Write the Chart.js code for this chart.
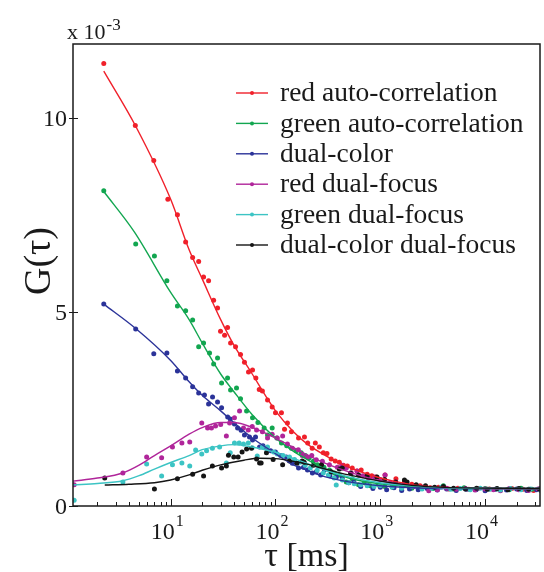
<!DOCTYPE html>
<html>
<head>
<meta charset="utf-8">
<script src="https://cdn.jsdelivr.net/npm/chart.js@4"></script>
<style>
  html, body { margin: 0; background: #fff; }
</style>
</head>
<body>
<canvas id="chart" width="544" height="572"></canvas>
<script>
// ---- data (tau in ms, G in units of 1e-3) ----
const seriesNames = [
  "red auto-correlation",
  "green auto-correlation",
  "dual-color",
  "red dual-focus",
  "green dual-focus",
  "dual-color dual-focus"
];
const seriesColors = ["#f0202a", "#12a650", "#2b3399", "#b0259a", "#3cc4c4", "#151515"];

const xTicks = [10, 100, 1000, 10000];
const xTickExp = ["1", "2", "3", "4"];
const yTicks = [0, 5, 10];

const redPts = [[2.3,11.4],[4.6,9.8],[6.9,8.9],[9.4,7.9],[11.6,7.5],[13.9,6.8],[16.2,6.4],[18.5,6.3],[20.6,5.9],[23,5.8],
  [25.7,5.3],[28,5.1],[29.9,4.5],[32.7,4.4],[34.9,4.6],[37.3,4.2],[41.6,4.1],[46.4,3.9],[50.6,3.7],[55.3,3.45],[60.4,3.5],
  [65,3.3],[70,3.0],[75,2.96],[84,2.73],[93,2.55],[100,2.4],[114,2.4],[122,1.98],[130,2.14],[142,1.91],[166,1.75],[189,1.78],
  [203,1.62],[224,1.49],[240,1.62],[262,1.52],[286,1.37],[310,1.35],[340,1.21],[372,1.16],[407,1.13],[445,1.05],[485,1.03],
  [540,0.98],[600,0.9],[657,0.93],[750,0.82],[830,0.78],[910,0.75],[1110,0.8],[1410,0.7],[1700,0.62],[2000,0.56],[2400,0.52],
  [3000,0.47],[3600,0.48],[4500,0.44],[5500,0.46],[7000,0.43],[8500,0.45],[11000,0.44],[14000,0.41],[18000,0.45],[23000,0.43],
  [29000,0.40],[34000,0.44]];
const greenPts = [[2.3,8.12],[4.64,6.75],[7,6.44],[9.2,5.8],[11.6,5.15],[13.9,5.03],[16.2,4.79],[18.5,4.1],[20.6,4.2],[23.5,3.94],
  [25.7,3.66],[28,3.81],[30.6,3.17],[34.9,3.3],[37.3,2.99],[42.5,3.04],[46.4,2.76],[53,2.45],[60.4,2.27],[68,2.15],[78,2.01],
  [84,1.83],[93,2.01],[103,1.75],[114,1.62],[128,1.55],[142,1.49],[158,1.42],[176,1.37],[193,1.3],[210,1.24],[230,1.15],
  [251,1.06],[290,1.0],[327,0.93],[365,0.85],[407,0.8],[474,0.62],[540,0.7],[620,0.55],[700,0.6],[800,0.52],[950,0.56],
  [1100,0.5],[1300,0.48],[1600,0.5],[2000,0.46],[2500,0.47],[3200,0.45],[4000,0.52],[5000,0.44],[6300,0.47],[8000,0.43],
  [10000,0.45],[13000,0.44],[17000,0.42],[22000,0.46],[28000,0.43],[34000,0.41]];
const bluePts = [[2.3,5.2],[4.64,4.56],[6.9,3.92],[9.2,3.94],[11.6,3.48],[13.9,3.3],[16.2,3.07],[18.5,2.91],[21,2.86],[23,2.63],
  [25.1,2.81],[28,2.68],[30.6,2.53],[35,2.29],[37,2.24],[40.6,2.11],[43.5,2.01],[47,1.95],[50.6,1.83],[56.5,1.78],[60.4,1.7],
  [64.5,1.78],[70.5,1.52],[76,1.55],[82,1.49],[90,1.42],[100,1.39],[112,1.3],[127,1.26],[145,1.1],[166,0.98],[185,1.0],
  [202,0.93],[225,0.85],[245,0.88],[270,0.8],[293,0.93],[330,0.78],[381,0.75],[434,0.72],[500,0.6],[560,0.62],[650,0.5],
  [750,0.55],[850,0.45],[1000,0.48],[1150,0.42],[1350,0.47],[1600,0.4],[1900,0.44],[2300,0.42],[2800,0.45],[3500,0.41],
  [4300,0.44],[5300,0.4],[6600,0.43],[8200,0.42],[10000,0.39],[12500,0.43],[16000,0.41],[20000,0.44],[25000,0.4],[31000,0.42]];
const magentaPts = [[1.2,0.55],[3.5,0.85],[5.9,1.26],[8.2,1.24],[10.4,1.52],[12.8,1.62],[15.2,1.65],[19.8,2.14],[22.5,2.01],
  [24.5,2.01],[26.8,2.06],[30,2.1],[34,1.8],[36.5,2.14],[40.6,2.27],[45.4,2.45],[49.5,2.01],[55,1.96],[60,2.05],[66,1.96],
  [75,1.91],[84,1.75],[93,1.85],[104,1.75],[117,1.8],[130,1.6],[145,1.49],[165,1.45],[180,1.3],[202,1.26],[222,1.3],
  [245,1.19],[280,1.15],[327,1.06],[389,1.0],[430,1.05],[474,0.98],[530,0.85],[600,0.9],[680,0.78],[770,0.72],[880,0.75],
  [1000,0.68],[1110,0.8],[1250,0.6],[1400,0.62],[1700,0.55],[2100,0.5],[2500,0.48],[2900,0.39],[3500,0.42],[4300,0.46],
  [5300,0.43],[6500,0.45],[8000,0.41],[10000,0.44],[12000,0.42],[14000,0.39],[17000,0.45],[21000,0.42],[26000,0.4],[32000,0.44]];
const cyanPts = [[1.2,0.15],[3.5,0.62],[5.9,1.08],[8.2,0.77],[10.4,1.06],[12.8,1.11],[15.2,1.03],[17.3,1.44],[19.8,1.34],
  [22,1.42],[25,1.49],[29.3,1.52],[34,1.11],[37,1.37],[40.6,1.62],[45,1.62],[49.5,1.6],[55,1.62],[60,1.5],[67,1.29],[75,1.52],
  [84,1.52],[96,1.39],[104,1.34],[118,1.3],[136,1.26],[152,1.2],[172,1.13],[192,1.05],[215,0.98],[250,0.92],[286,0.85],
  [320,0.8],[363,0.72],[380,0.54],[434,0.67],[500,0.6],[565,0.57],[650,0.55],[750,0.52],[870,0.5],[1000,0.53],[1300,0.49],
  [1600,0.46],[2000,0.5],[2500,0.44],[3100,0.46],[3800,0.48],[4700,0.43],[5800,0.45],[7200,0.42],[9000,0.46],[11000,0.43],
  [14000,0.41],[17500,0.45],[22000,0.42],[27000,0.44],[34000,0.4]];
const blackPts = [[2.35,0.72],[7,0.44],[11.6,0.7],[16.2,0.82],[20.6,0.77],[25,1.03],[30.6,0.98],[34,1.03],[35.6,1.31],[40,1.26],
  [44,1.26],[48,1.39],[53,1.47],[59,1.49],[66,1.21],[70.5,1.11],[73,1.11],[82,1.37],[95,1.2],[117,1.06],[136,1.16],[160,1.1],
  [180,1.16],[188,1.13],[230,1.05],[275,1.06],[340,0.88],[407,0.95],[434,0.98],[520,0.85],[620,0.8],[750,0.78],[930,0.75],
  [1100,0.68],[1400,0.62],[1700,0.67],[1800,0.62],[2200,0.55],[2700,0.52],[3300,0.48],[4000,0.5],[5000,0.46],[6500,0.44],
  [8300,0.46],[10500,0.43],[13000,0.45],[16500,0.42],[21000,0.45],[26000,0.43],[33000,0.44]];

// fitted curves
const redFit = [[2.3,11.2],[4.6,9.8],[10,7.9],[15,6.6],[20,5.85],[30,4.8],[40,4.15],[60,3.4],[80,2.85],[100,2.45],[150,1.9],
  [200,1.6],[300,1.3],[500,1.0],[1000,0.72],[2000,0.55],[4000,0.48],[10000,0.45],[35000,0.44]];
const greenFit = [[2.3,8.1],[4.5,7.06],[10,5.5],[15,4.8],[20,4.2],[30,3.4],[40,2.95],[60,2.35],[100,1.75],[150,1.4],[200,1.2],
  [300,0.95],[500,0.72],[1000,0.57],[2000,0.5],[4000,0.46],[35000,0.45]];
const blueFit = [[2.3,5.2],[4.7,4.56],[10,3.75],[15,3.2],[20,2.85],[30,2.45],[40,2.15],[60,1.75],[100,1.35],[150,1.05],
  [200,0.92],[300,0.75],[500,0.62],[1000,0.52],[2000,0.47],[4000,0.45],[35000,0.44]];
const magentaFit = [[1.17,0.64],[2,0.72],[3.5,0.85],[5,1.05],[7,1.3],[10,1.55],[15,1.85],[20,2.02],[30,2.15],[40,2.15],[50,2.1],
  [70,1.95],[100,1.75],[150,1.5],[200,1.32],[300,1.1],[500,0.88],[1000,0.65],[2000,0.53],[4000,0.47],[35000,0.45]];
const cyanFit = [[1.17,0.54],[2,0.58],[3.5,0.65],[5,0.78],[7,0.95],[10,1.12],[15,1.3],[20,1.45],[30,1.55],[40,1.58],[60,1.52],
  [100,1.38],[150,1.22],[200,1.1],[300,0.92],[500,0.75],[1000,0.6],[2000,0.52],[4000,0.47],[35000,0.45]];
const blackFit = [[2.35,0.54],[4,0.56],[7,0.6],[10,0.67],[15,0.8],[20,0.92],[30,1.06],[50,1.18],[70,1.23],[100,1.22],[150,1.15],
  [200,1.08],[300,0.95],[500,0.8],[1000,0.64],[2000,0.53],[4000,0.48],[35000,0.45]];

const allPts = [redPts, greenPts, bluePts, magentaPts, cyanPts, blackPts];
const allFits = [redFit, greenFit, blueFit, magentaFit, cyanFit, blackFit];

const serif = '"Liberation Serif", "Times New Roman", serif';
const toXY = arr => arr.map(p => ({ x: p[0], y: p[1] }));

const datasets = [];
allPts.forEach((pts, i) => {
  datasets.push({
    label: seriesNames[i],
    data: toXY(pts),
    showLine: false,
    pointRadius: 2.5,
    pointBorderWidth: 0,
    pointBackgroundColor: seriesColors[i],
    order: 20 - i
  });
});
allFits.forEach((fit, i) => {
  datasets.push({
    label: seriesNames[i] + " fit",
    data: toXY(fit),
    showLine: true,
    borderColor: seriesColors[i],
    borderWidth: 1.4,
    pointRadius: 0,
    cubicInterpolationMode: "monotone",
    order: 10 - i
  });
});

// axes box, ticks, labels, legend
const decor = {
  id: "decor",
  afterDraw(chart) {
    const { ctx, chartArea: a, scales: { x, y } } = chart;
    ctx.save();
    ctx.strokeStyle = "#1a1a1a";
    ctx.lineWidth = 1.5;
    ctx.strokeRect(a.left, a.top, a.right - a.left, a.bottom - a.top);

    // log minor / major ticks on bottom axis
    ctx.lineWidth = 1;
    for (let d = 0; d <= 4; d++) {
      for (let k = 1; k <= 9; k++) {
        const v = k * Math.pow(10, d);
        if (v < x.min || v > x.max) continue;
        const px = Math.round(x.getPixelForValue(v)) + 0.5;
        const len = k === 1 ? 7 : 4;
        ctx.beginPath();
        ctx.moveTo(px, a.bottom);
        ctx.lineTo(px, a.bottom - len);
        ctx.stroke();
      }
    }
    // y ticks
    yTicks.forEach(v => {
      const py = Math.round(y.getPixelForValue(v)) + 0.5;
      ctx.beginPath();
      ctx.moveTo(a.left - 4, py);
      ctx.lineTo(a.left + 5, py);
      ctx.stroke();
    });

    ctx.fillStyle = "#1a1a1a";
    // y tick labels
    ctx.font = "24px " + serif;
    ctx.textAlign = "right";
    ctx.textBaseline = "middle";
    yTicks.forEach(v => {
      ctx.fillText(String(v), a.left - 6, y.getPixelForValue(v) + 2);
    });

    // x tick labels 10^n
    ctx.textBaseline = "alphabetic";
    ctx.textAlign = "left";
    xTicks.forEach((v, i) => {
      const px = x.getPixelForValue(v);
      ctx.font = "24px " + serif;
      const w10 = ctx.measureText("10").width;
      ctx.font = "16px " + serif;
      const wExp = ctx.measureText(xTickExp[i]).width;
      const start = px - (w10 + wExp) / 2 - 4;
      ctx.font = "24px " + serif;
      ctx.fillText("10", start, 539);
      ctx.font = "16px " + serif;
      ctx.fillText(xTickExp[i], start + w10 + 1, 526);
    });

    // exponent marker
    ctx.font = "22px " + serif;
    ctx.fillText("x 10", 67, 39);
    const wx = ctx.measureText("x 10").width;
    ctx.font = "17px " + serif;
    ctx.fillText("-3", 67 + wx + 1, 30);

    // axis titles
    ctx.font = "34px " + serif;
    ctx.textAlign = "center";
    ctx.fillText("\u03c4 [ms]", (a.left + a.right) / 2, 566);
    ctx.save();
    ctx.font = "38px " + serif;
    ctx.translate(50, 261);
    ctx.rotate(-Math.PI / 2);
    ctx.fillText("G(\u03c4)", 0, 0);
    ctx.restore();

    // legend
    ctx.font = "27.5px " + serif;
    ctx.textAlign = "left";
    ctx.textBaseline = "middle";
    seriesNames.forEach((name, i) => {
      const ly = 93 + i * 30.4;
      ctx.strokeStyle = seriesColors[i];
      ctx.lineWidth = 1.4;
      ctx.beginPath();
      ctx.moveTo(236, ly);
      ctx.lineTo(268, ly);
      ctx.stroke();
      ctx.fillStyle = seriesColors[i];
      ctx.beginPath();
      ctx.arc(252, ly, 2, 0, Math.PI * 2);
      ctx.fill();
      ctx.fillStyle = "#1a1a1a";
      ctx.fillText(name, 280, ly + 1);
    });
    ctx.restore();
  }
};

new Chart(document.getElementById("chart"), {
  type: "scatter",
  data: { datasets },
  options: {
    responsive: false,
    animation: false,
    devicePixelRatio: 1,
    layout: { padding: { left: 0, right: 3, top: 44, bottom: 0 } },
    plugins: { legend: { display: false }, tooltip: { enabled: false } },
    scales: {
      x: {
        type: "logarithmic",
        min: 1.17,
        max: 33400,
        grid: { display: false },
        border: { display: false },
        ticks: { display: false },
        afterFit: s => { s.height = 66; }
      },
      y: {
        min: 0,
        max: 11.9,
        grid: { display: false },
        border: { display: false },
        ticks: { display: false },
        afterFit: s => { s.width = 73; }
      }
    }
  },
  plugins: [decor]
});
</script>
</body>
</html>
